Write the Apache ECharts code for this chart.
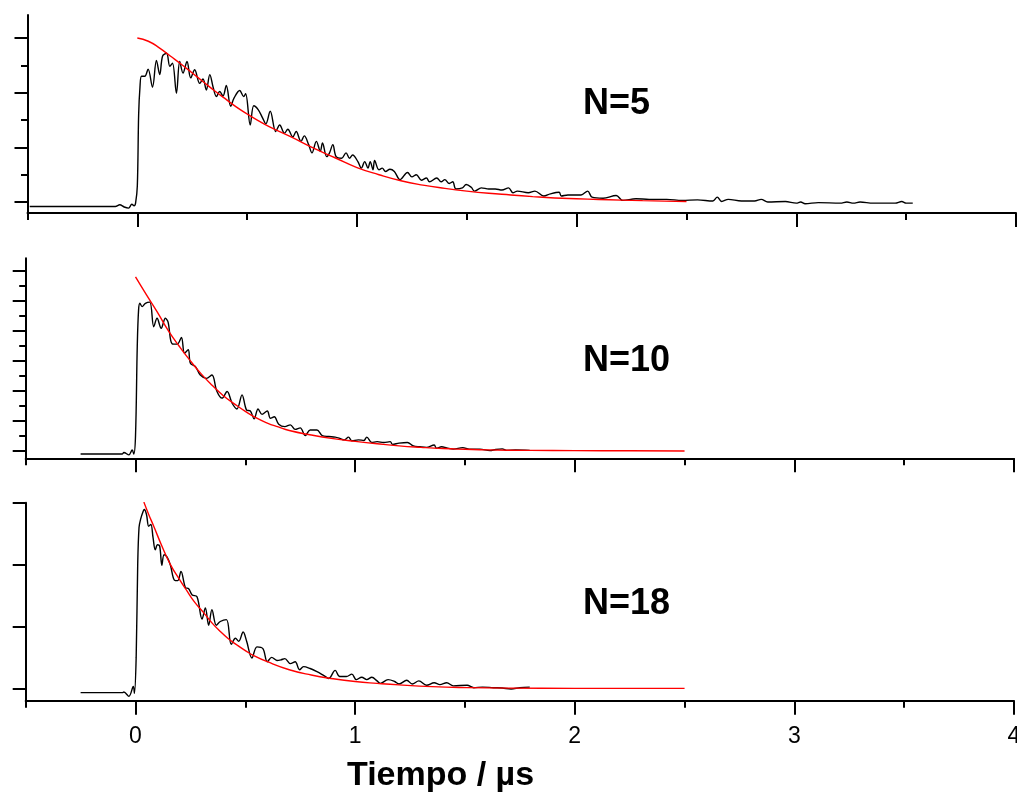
<!DOCTYPE html>
<html><head><meta charset="utf-8">
<script src="https://cdn.jsdelivr.net/npm/echarts@6/dist/echarts.min.js"></script>
<style>html,body{margin:0;padding:0;background:#fff}#c{width:1017px;height:792px}</style>
</head><body><div id="c"></div>
<script>
// ---------- data (time in µs, signal in arbitrary units) ----------
const p1BlackT = [-0.49,-0.10,-0.08,-0.06,-0.04,-0.025,-0.015,-0.008,0.0,0.006,0.012,0.019,0.034,0.049,0.069,0.087,0.102,0.115,0.133,0.148,0.160,0.178,0.193,0.208,0.226,0.243,0.261,0.284,0.299,0.314,0.33,0.345,0.36,0.375,0.39,0.405,0.425,0.44,0.466,0.484,0.493,0.514,0.53,0.55,0.57,0.585,0.605,0.63,0.648,0.67,0.685,0.708,0.723,0.745,0.76,0.78,0.795,0.815,0.833,0.843,0.862,0.875,0.89,0.905,0.93,0.95,0.966,0.98,1.004,1.02,1.035,1.05,1.06,1.073,1.08,1.10,1.115,1.13,1.15,1.17,1.196,1.23,1.25,1.27,1.293,1.316,1.33,1.363,1.383,1.40,1.42,1.436,1.45,1.48,1.497,1.52,1.535,1.566,1.60,1.63,1.66,1.69,1.71,1.73,1.78,1.81,1.85,1.88,1.92,1.93,1.96,2.02,2.05,2.07,2.12,2.18,2.21,2.27,2.33,2.41,2.48,2.55,2.62,2.64,2.66,2.69,2.75,2.81,2.84,2.87,2.95,3.0,3.02,3.04,3.1,3.2,3.23,3.26,3.29,3.35,3.45,3.48,3.5,3.53];
const p1BlackV = [-0.08,-0.08,-0.05,-0.09,-0.11,-0.04,-0.07,-0.02,0.3,1.6,2.1,2.30,2.30,2.43,2.10,2.59,2.33,2.67,2.72,2.48,2.54,1.99,2.57,2.36,2.57,2.27,2.42,2.17,2.25,2.05,2.33,2.10,1.93,2.02,1.94,2.13,1.75,1.90,2.04,1.93,1.98,1.41,1.76,1.69,1.54,1.43,1.66,1.29,1.41,1.26,1.33,1.19,1.29,1.11,1.21,1.05,0.90,1.11,0.93,1.08,0.83,0.90,1.05,0.83,0.80,0.90,0.80,0.86,0.74,0.62,0.74,0.62,0.74,0.59,0.76,0.59,0.62,0.56,0.60,0.56,0.41,0.54,0.46,0.50,0.40,0.44,0.37,0.44,0.37,0.41,0.34,0.37,0.24,0.26,0.32,0.27,0.20,0.26,0.24,0.24,0.22,0.26,0.17,0.20,0.17,0.20,0.11,0.15,0.18,0.11,0.13,0.13,0.20,0.09,0.07,0.12,0.03,0.06,0.05,0.05,0.03,0.04,0.02,0.09,0.01,0.05,0.02,0.02,0.05,0.0,0.01,-0.02,0.0,-0.03,-0.01,-0.02,0.0,-0.02,0.0,-0.02,-0.02,0.01,-0.02,-0.02];
const p1FitT = [0,0.05,0.1,0.15,0.2,0.25,0.3,0.35,0.4,0.45,0.5,0.55,0.6,0.7,0.8,0.9,1.0,1.1,1.2,1.3,1.4,1.5,1.6,1.7,1.8,1.9,2.0,2.1,2.2,2.3,2.4,2.5];
const p1FitV = [3.0,2.94,2.82,2.67,2.52,2.36,2.20,2.04,1.89,1.74,1.61,1.49,1.38,1.19,0.99,0.81,0.63,0.50,0.39,0.31,0.25,0.20,0.16,0.13,0.10,0.075,0.06,0.048,0.036,0.026,0.018,0.01];

const p2BlackT = [-0.25,-0.06,-0.053,-0.03,-0.015,-0.008,0.0,0.008,0.014,0.02,0.03,0.045,0.065,0.083,0.098,0.117,0.136,0.148,0.167,0.19,0.209,0.223,0.24,0.25,0.273,0.295,0.323,0.348,0.37,0.394,0.417,0.44,0.462,0.485,0.505,0.523,0.54,0.558,0.576,0.6,0.614,0.632,0.652,0.68,0.705,0.727,0.75,0.773,0.795,0.826,0.85,0.88,0.909,0.93,0.95,0.97,0.985,1.015,1.04,1.053,1.076,1.1,1.13,1.16,1.17,1.2,1.238,1.265,1.295,1.325,1.36,1.37,1.394,1.417,1.447,1.49,1.52,1.568,1.614,1.64,1.67,1.69,1.73,1.795];
const p2BlackV = [-0.10,-0.10,-0.05,-0.13,0.03,-0.10,0.5,3.5,4.7,4.92,4.81,4.92,4.96,4.14,4.42,4.09,4.42,4.30,3.57,3.56,3.78,3.26,3.37,2.92,2.81,2.53,2.42,2.53,2.0,1.76,1.98,1.59,1.40,1.87,1.37,1.33,1.07,1.40,1.22,1.33,1.09,1.14,0.89,0.81,0.87,0.72,0.77,0.51,0.70,0.70,0.51,0.48,0.46,0.42,0.37,0.46,0.34,0.37,0.35,0.46,0.28,0.31,0.28,0.31,0.22,0.26,0.28,0.17,0.14,0.12,0.20,0.09,0.14,0.10,0.06,0.11,0.06,0.06,0.01,0.05,0.07,0.02,0.03,0.02];
const p2FitT = [0,0.05,0.1,0.15,0.2,0.25,0.3,0.35,0.4,0.45,0.5,0.55,0.6,0.65,0.7,0.8,0.9,1.0,1.1,1.2,1.3,1.4,1.5,1.6,1.8,2.0,2.25,2.5];
const p2FitV = [5.8,5.2,4.62,4.0,3.48,3.0,2.56,2.18,1.84,1.57,1.32,1.10,0.93,0.80,0.68,0.53,0.41,0.32,0.24,0.17,0.12,0.08,0.055,0.035,0.02,0.01,0.005,0.0];

const p3BlackT = [-0.25,-0.06,-0.053,-0.03,-0.01,-0.005,0.003,0.01,0.016,0.023,0.035,0.04,0.05,0.06,0.07,0.08,0.09,0.1,0.11,0.12,0.13,0.144,0.159,0.177,0.192,0.207,0.227,0.242,0.258,0.28,0.303,0.318,0.333,0.348,0.368,0.386,0.414,0.436,0.455,0.47,0.49,0.506,0.53,0.553,0.58,0.6,0.62,0.644,0.662,0.68,0.705,0.727,0.747,0.765,0.795,0.826,0.856,0.88,0.909,0.93,0.96,0.985,1.005,1.03,1.053,1.076,1.1,1.114,1.15,1.18,1.2,1.235,1.26,1.29,1.325,1.36,1.386,1.417,1.447,1.51,1.54,1.58,1.63,1.67,1.71,1.75,1.795];
const p3BlackV = [-0.07,-0.07,-0.06,-0.13,0.03,-0.08,0.5,2.0,2.6,2.73,2.86,2.89,2.81,2.62,2.65,2.43,2.24,2.32,2.30,1.99,2.16,2.12,1.99,1.75,1.74,1.89,1.63,1.61,1.51,1.48,1.12,1.30,1.02,1.27,1.02,1.08,1.11,0.71,0.81,0.76,0.91,0.76,0.49,0.67,0.64,0.43,0.50,0.45,0.46,0.48,0.40,0.43,0.30,0.35,0.32,0.27,0.21,0.16,0.29,0.19,0.19,0.23,0.14,0.18,0.14,0.18,0.12,0.08,0.14,0.11,0.07,0.13,0.07,0.12,0.05,0.09,0.06,0.09,0.04,0.05,0.01,0.02,0.01,0.005,-0.01,0.01,0.02];
const p3FitT = [0.038,0.06,0.083,0.12,0.159,0.2,0.235,0.27,0.311,0.35,0.386,0.42,0.462,0.5,0.538,0.6,0.7,0.8,0.9,1.0,1.1,1.2,1.35,1.5,1.7,2.0,2.25,2.5];
const p3FitV = [3.01,2.81,2.62,2.30,2.0,1.76,1.57,1.39,1.22,1.05,0.92,0.81,0.70,0.61,0.53,0.43,0.30,0.215,0.155,0.11,0.08,0.055,0.027,0.012,0.003,0.0,0.0,0.0];

// ---------- axes / labels ----------
const xMajorTicks = [0,1,2,3,4];
const xMinorTicks = [-0.5,0.5,1.5,2.5,3.5];
const xTickLabels = [0,1,2,3,4];
const p1YMajor = [0,1,2,3];
const p1YMinor = [0.5,1.5,2.5];
const p2YMajor = [0,1,2,3,4,5,6];
const p2YMinor = [0.5,1.5,2.5,3.5,4.5,5.5];
const p3YMajor = [0,1,2,3];
const p3YMinor = [];
const panelLabels = ['N=5','N=10','N=18'];
const xTitle = 'Tiempo / \u00b5s';

// ---------- build ----------
const zip = (t, v) => t.map((x, i) => [x, v[i]]);
const FONT = '"Liberation Sans", Arial, Helvetica, sans-serif';

const grids = [
  {left: 27.5, right: 1, top: 15, height: 198},
  {left: 25.7, right: 3, top: 258.3, height: 200},
  {left: 25.7, right: 3, top: 502.7, height: 198}
].map(g => Object.assign(g, {containLabel: false, outerBoundsMode: 'none'}));
const yRanges = [[-0.2, 3.42], [-0.245, 6.42], [-0.2, 3.0]];
const yMaj = [p1YMajor, p2YMajor, p3YMajor];
const yMin = [p1YMinor, p2YMinor, p3YMinor];

const xAxes = [], yAxes = [];
grids.forEach((g, i) => {
  xAxes.push({
    gridIndex: i, type: 'value', min: -0.5, max: 4, position: 'bottom',
    axisLine: {show: true, onZero: false, lineStyle: {color: '#000', width: 2}},
    axisTick: {show: true, inside: false, length: 14, customValues: xMajorTicks, lineStyle: {color: '#000', width: 2}},
    axisLabel: {show: i === 2, customValues: xTickLabels, margin: 24, color: '#000', fontSize: 23, fontFamily: FONT, hideOverlap: false},
    splitLine: {show: false}
  });
  xAxes.push({
    gridIndex: i, type: 'value', min: -0.5, max: 4, position: 'bottom',
    axisLine: {show: false, onZero: false},
    axisTick: {show: true, length: 7, customValues: xMinorTicks, lineStyle: {color: '#000', width: 2}},
    axisLabel: {show: false}, splitLine: {show: false}
  });
  yAxes.push({
    gridIndex: i, type: 'value', min: yRanges[i][0], max: yRanges[i][1], position: 'left',
    axisLine: {show: true, onZero: false, lineStyle: {color: '#000', width: 2}},
    axisTick: {show: true, length: 13, customValues: yMaj[i], lineStyle: {color: '#000', width: 2}},
    axisLabel: {show: false}, splitLine: {show: false}
  });
  yAxes.push({
    gridIndex: i, type: 'value', min: yRanges[i][0], max: yRanges[i][1], position: 'left',
    axisLine: {show: false, onZero: false},
    axisTick: {show: yMin[i].length > 0, length: 6.5, customValues: yMin[i].length ? yMin[i] : [0], lineStyle: {color: '#000', width: 2}},
    axisLabel: {show: false}, splitLine: {show: false}
  });
});

const blacks = [zip(p1BlackT, p1BlackV), zip(p2BlackT, p2BlackV), zip(p3BlackT, p3BlackV)];
const fits = [zip(p1FitT, p1FitV), zip(p2FitT, p2FitV), zip(p3FitT, p3FitV)];
const series = [];
for (let i = 0; i < 3; i++) {
  series.push({
    type: 'line', xAxisIndex: 2 * i, yAxisIndex: 2 * i, data: blacks[i],
    showSymbol: false, smooth: 0.35, lineStyle: {color: '#000', width: 1.4}, z: 2
  });
  series.push({
    type: 'line', xAxisIndex: 2 * i, yAxisIndex: 2 * i, data: fits[i],
    showSymbol: false, smooth: true, lineStyle: {color: '#ff0000', width: 1.4}, z: 3
  });
}

const labelY = [105, 362, 605];
const graphic = panelLabels.map((s, i) => ({
  type: 'text', left: 583, top: labelY[i] - 19,
  style: {text: s, fill: '#000', font: 'bold 36px ' + FONT}
}));
graphic.push({
  type: 'text', left: 347, top: 759,
  style: {text: xTitle, fill: '#000', font: 'bold 34px ' + FONT}
});

const chart = echarts.init(document.getElementById('c'), null, {renderer: 'canvas'});
chart.setOption({
  animation: false,
  backgroundColor: '#fff',
  grid: grids,
  xAxis: xAxes,
  yAxis: yAxes,
  series: series,
  graphic: graphic
});
</script>
</body></html>
